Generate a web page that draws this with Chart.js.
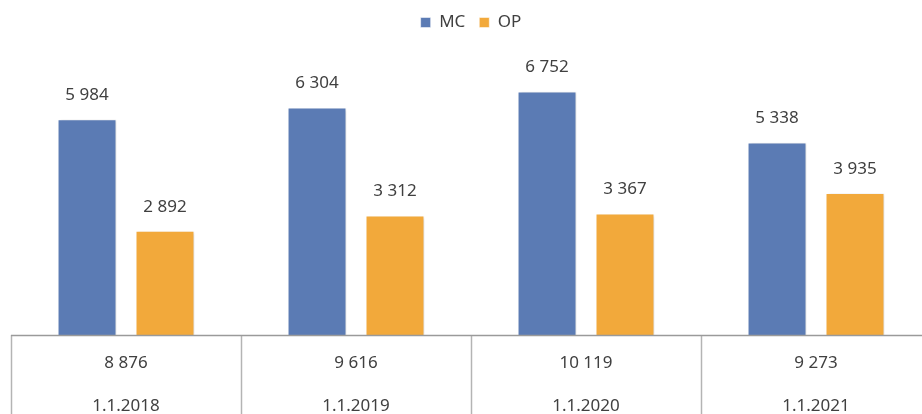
<!DOCTYPE html>
<html>
<head>
<meta charset="utf-8">
<script src="https://cdn.jsdelivr.net/npm/chart.js@4/dist/chart.umd.min.js"></script>
<style>
    html, body { margin: 0; padding: 0; background: #ffffff; }
    .frame { width: 922px; height: 414px; overflow: hidden; position: relative; }
    .frame canvas { position: absolute; left: 0; top: 0; }
</style>
</head>
<body>
<div class="frame">
    <canvas id="chart" width="931" height="440"></canvas>
</div>
<script>
// Dates and per-date values
const dates = ['1.1.2018', '1.1.2019', '1.1.2020', '1.1.2021'];
const mcValues = [5984, 6304, 6752, 5338];
const opValues = [2892, 3312, 3367, 3935];
const totals = [8876, 9616, 10119, 9273];

const textColor = '#404040';
const fontFamily = "'Noto Sans', 'Open Sans', sans-serif";

// 8876 -> "8 876"
const fmt = (v) => String(v).replace(/\B(?=(\d{3})+(?!\d))/g, ' ');

// Soft drop shadow under the bars
const barShadow = {
    id: 'barShadow',
    beforeDatasetsDraw(chart) {
        const c = chart.ctx;
        c.save();
        c.shadowColor = 'rgba(0, 0, 0, 0.18)';
        c.shadowBlur = 3;
        c.shadowOffsetX = 2;
        c.shadowOffsetY = 1;
    },
    afterDatasetsDraw(chart) {
        chart.ctx.restore();
    }
};

// Value labels above each bar
const valueLabels = {
    id: 'valueLabels',
    afterDatasetsDraw(chart) {
        const c = chart.ctx;
        c.save();
        c.font = '17px ' + fontFamily;
        c.fillStyle = textColor;
        c.textAlign = 'center';
        c.textBaseline = 'middle';
        chart.data.datasets.forEach((ds, i) => {
            chart.getDatasetMeta(i).data.forEach((bar, j) => {
                c.fillText(fmt(ds.data[j]), bar.x, bar.y - 24);
            });
        });
        c.restore();
    }
};

// Table under the axis: totals row and date row with cell dividers
const bottomTable = {
    id: 'bottomTable',
    afterDraw(chart) {
        const c = chart.ctx;
        const x = chart.scales.x;
        const top = chart.chartArea.bottom;
        const half = (x.getPixelForValue(1) - x.getPixelForValue(0)) / 2;
        c.save();
        c.strokeStyle = '#b4b4b4';
        c.lineWidth = 1.5;
        for (let i = 0; i <= dates.length; i++) {
            const px = Math.round(x.getPixelForValue(i) - half) + 0.5;
            c.beginPath();
            c.moveTo(px, top);
            c.lineTo(px, chart.height);
            c.stroke();
        }
        c.strokeStyle = '#9a9a9a';
        c.beginPath();
        c.moveTo(chart.chartArea.left, top + 0.5);
        c.lineTo(chart.width, top + 0.5);
        c.stroke();

        c.font = '17px ' + fontFamily;
        c.fillStyle = textColor;
        c.textAlign = 'center';
        c.textBaseline = 'middle';
        dates.forEach((d, i) => {
            const px = x.getPixelForValue(i);
            c.fillText(fmt(totals[i]), px, top + 28);
            c.fillText(d, px, top + 71);
        });
        c.restore();
    }
};

new Chart(document.getElementById('chart'), {
    type: 'bar',
    data: {
        labels: dates,
        datasets: [
            {
                label: 'MC',
                data: mcValues,
                backgroundColor: '#5b7bb4',
                borderColor: 'rgba(255, 255, 255, 0.5)',
                borderWidth: 1,
                categoryPercentage: 0.678,
                barPercentage: 0.756
            },
            {
                label: 'OP',
                data: opValues,
                backgroundColor: '#f2a93b',
                borderColor: 'rgba(255, 255, 255, 0.5)',
                borderWidth: 1,
                categoryPercentage: 0.678,
                barPercentage: 0.756
            }
        ]
    },
    options: {
        responsive: false,
        animation: false,
        layout: { padding: { left: 11, right: 0, top: 0, bottom: 97 } },
        plugins: {
            legend: {
                position: 'top',
                labels: {
                    color: textColor,
                    font: { family: fontFamily, size: 17 },
                    boxWidth: 10,
                    boxHeight: 10,
                    padding: 14
                }
            },
            tooltip: { enabled: false }
        },
        scales: {
            x: {
                grid: { display: false },
                border: { display: false },
                ticks: { display: false }
            },
            y: {
                display: false,
                min: 0,
                max: 8150
            }
        }
    },
    plugins: [barShadow, valueLabels, bottomTable]
});
</script>
</body>
</html>
